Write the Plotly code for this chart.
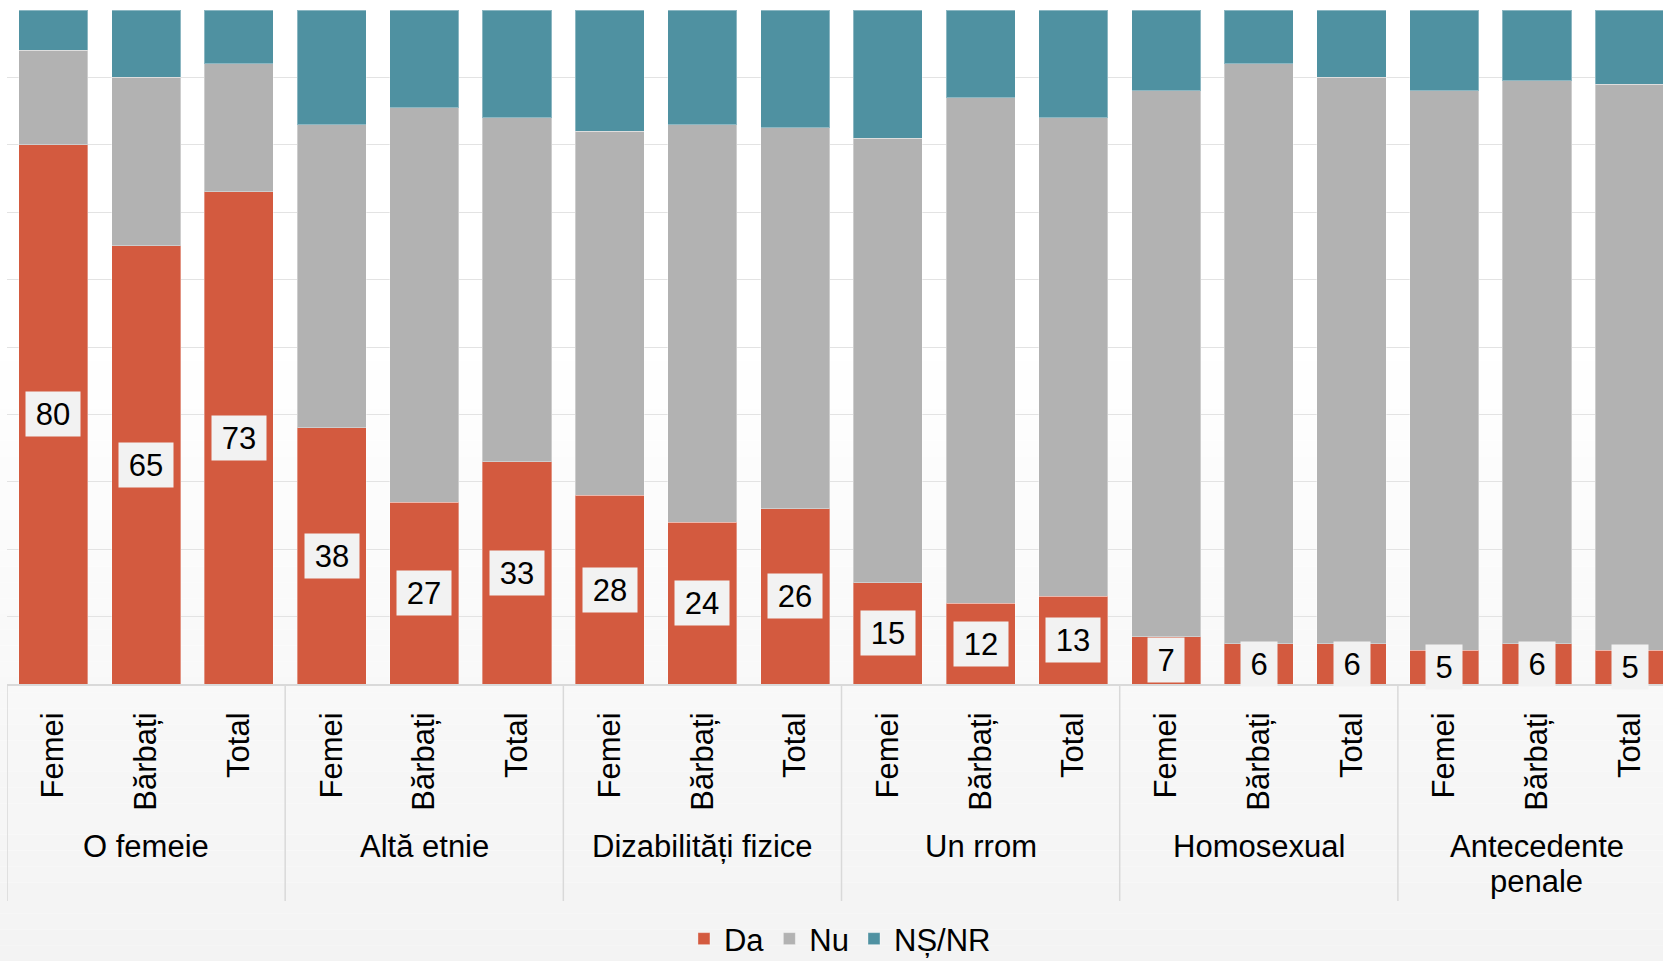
import plotly.graph_objects as go

# ---- data ----
group_labels = ["O femeie", "Altă etnie", "Dizabilități fizice", "Un rrom",
                "Homosexual", "Antecedente<br>penale"]
sub_labels = ["Femei", "Bărbați", "Total"]
series_names = ["Da", "Nu", "NȘ/NR"]
da = [80, 65, 73, 38, 27, 33, 28, 24, 26, 15, 12, 13, 7, 6, 6, 5, 6, 5]
nu = [14, 25, 19, 45, 58.5, 51, 54, 59, 56.5, 66, 75, 71, 81, 86, 84, 83, 83.5, 84]
ns = [6, 10, 8, 17, 14.5, 16, 18, 17, 17.5, 19, 13, 16, 12, 8, 10, 12, 10.5, 11]
colors = ["#D35A3F", "#B2B2B2", "#4F91A1"]

FONT = "Liberation Sans, Arial, sans-serif"
W, H = 1663, 961
ML, MT, MB = 7, 10, 277
plot_h = H - MT - MB

n_sub = len(sub_labels)
n = len(da)
xs = list(range(n))
ticktext = [sub_labels[i % n_sub] for i in xs]

fig = go.Figure()
for name, vals, col in zip(series_names, [da, nu, ns], colors):
    fig.add_bar(x=xs, y=vals, name=name,
                marker=dict(color=col, line=dict(color="rgba(255,255,255,0.35)", width=1)))

# background gradient (white top -> light grey bottom)
shapes = []
nb = 40
y_start_px = 330
for k in range(nb):
    p0 = y_start_px + (H - y_start_px) * k / nb
    p1 = y_start_px + (H - y_start_px) * (k + 1) / nb
    t = (k + 0.5) / nb
    g = round(255 - t * 12)
    shapes.append(dict(type="rect", xref="paper", yref="paper", layer="below",
                       x0=-0.01, x1=1.01,
                       y0=(H - MB - p1) / plot_h, y1=(H - MB - p0) / plot_h,
                       fillcolor=f"rgb({g},{g},{g})", line=dict(width=0)))

# group separators
sep_bottom = -(901 - (H - MB)) / plot_h
for gi in range(len(group_labels)):
    xv = gi * n_sub - 0.5
    shapes.append(dict(type="line", xref="x", yref="paper", x0=xv, x1=xv,
                       y0=0, y1=sep_bottom, line=dict(color="#d9d9d9", width=1.5)))

annotations = []
# data labels
for i, v in enumerate(da):
    txt = str(v)
    annotations.append(dict(x=i, y=v / 2, xref="x", yref="y", text=txt,
                            showarrow=False, bgcolor="#F2F2F2",
                            width=18 * len(txt) + 18, height=44, borderpad=0,
                            font=dict(family=FONT, size=31, color="#000000")))

# group labels
line_step = 35
first_center_px = 846
for gi, lab in enumerate(group_labels):
    for li, part in enumerate(lab.split("<br>")):
        ypx = first_center_px + li * line_step
        annotations.append(dict(x=gi * n_sub + (n_sub - 1) / 2, xref="x", yref="paper",
                                y=-(ypx - (H - MB)) / plot_h, yanchor="middle",
                                text=part, showarrow=False,
                                font=dict(family=FONT, size=31, color="#000000")))

fig.update_layout(
    width=W, height=H,
    margin=dict(l=ML, r=0, t=MT, b=MB, pad=0, autoexpand=False),
    barmode="stack", bargap=0.255,
    paper_bgcolor="#ffffff", plot_bgcolor="rgba(0,0,0,0)",
    font=dict(family=FONT, size=31, color="#000000"),
    shapes=shapes, annotations=annotations,
    showlegend=True,
    legend=dict(orientation="h", x=0.503, xanchor="center",
                y=-(939 - (H - MB)) / plot_h, yanchor="middle",
                font=dict(family=FONT, size=31, color="#000000"),
                bgcolor="rgba(0,0,0,0)", traceorder="normal"),
    xaxis=dict(range=[-0.5, -0.5 + (W - 7.45) / 92.7], tickmode="array",
               tickvals=xs, ticktext=ticktext, tickangle=-90,
               tickfont=dict(family=FONT, size=31, color="#000000"),
               ticks="", ticklabelstandoff=14, automargin=False,
               showgrid=False, zeroline=False,
               showline=True, linecolor="#d9d9d9", linewidth=2),
    yaxis=dict(range=[0, 100], dtick=10, showticklabels=False, automargin=False,
               showgrid=True, gridcolor="#e3e3e3", gridwidth=1.2,
               zeroline=False, showline=False),
)

fig.write_html("out.html", config={"displayModeBar": False},
               post_script="document.body.style.margin='0';document.body.style.padding='0';document.body.style.overflow='hidden';")
